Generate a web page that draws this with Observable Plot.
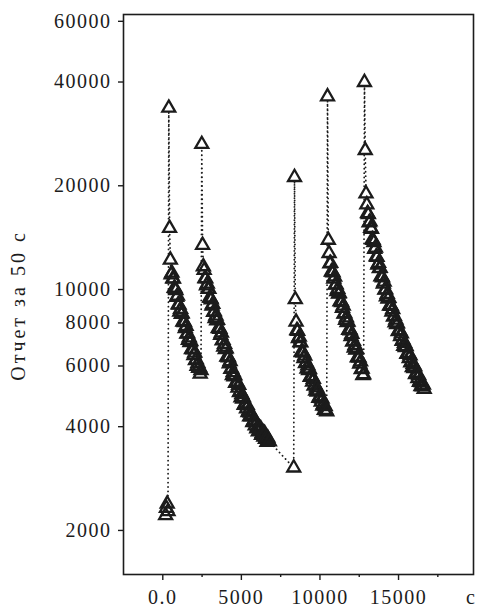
<!DOCTYPE html>
<html><head><meta charset="utf-8">
<script src="https://cdn.jsdelivr.net/npm/d3@7"></script>
<script src="https://cdn.jsdelivr.net/npm/@observablehq/plot@0.6"></script>
<style>
html,body{margin:0;padding:0;background:#fff;}
#chart svg{display:block;}
</style></head><body><div id="chart"></div>
<script>
// Counts per 50 s, sampled every 50 s. Two continuous runs separated by a gap.
const step = 50;
const runAStart = 181;   // s
const runBStart = 8331;  // s

// Run A
const bg     = [2210, 2320, 2390, 2270];
const peak1  = [33650, 15070, 12190];
const decay1 = [11050, 11170, 10750, 10730, 10100, 10070, 9940, 9500, 9580, 9040,
                9020, 8620, 8770, 8490, 8520, 8060, 8090, 8030, 7720, 7830,
                7430, 7450, 7130, 7250, 7030, 7070, 6700, 6730, 6690, 6440,
                6550, 6230, 6260, 5990, 6110, 5920, 5950, 5690, 5830];
const peak2  = [26400, 13460, 11660];
const decay2 = [11380, 10770, 10760, 10260, 10390, 10030, 10030, 9460, 9450, 9350,
                8960, 9070, 8600, 8630, 8250, 8390, 8120, 8150, 7710, 7740,
                7680, 7380, 7490, 7110, 7130, 6820, 6940, 6710, 6740, 6380,
                6390, 6350, 6100, 6190, 5880, 5890, 5640, 5750, 5590, 5630,
                5350, 5390, 5370, 5180, 5280, 5030, 5060, 4860, 4960, 4820,
                4860, 4620, 4660, 4660, 4510, 4610, 4400, 4450, 4280, 4390,
                4280, 4320, 4120, 4160, 4160, 4030, 4120, 3950, 4000, 3870,
                3980, 3900, 3950, 3780, 3830, 3850, 3740, 3830, 3680, 3730,
                3610, 3710, 3630, 3620];

// Run B
const pre3   = [3040];
const peak3  = [21170, 9360];
const decay3 = [8060, 7610, 7580, 7210, 7290, 7020, 7010, 6600, 6580, 6550,
                6310, 6420, 6110, 6140, 5890, 6010, 5830, 5870, 5570, 5600,
                5590, 5400, 5500, 5250, 5290, 5080, 5190, 5050, 5090, 4840,
                4890, 4880, 4720, 4820, 4600, 4650, 4470, 4580, 4460, 4424];
const peak4  = [36300, 13920, 12740];
const decay4 = [11890, 11920, 11260, 11280, 11190, 10740, 10890, 10320, 10330, 9870,
                10030, 9710, 9750, 9220, 9250, 9180, 8830, 8960, 8500, 8520,
                8150, 8290, 8030, 8060, 7630, 7660, 7600, 7310, 7420, 7050,
                7080, 6770, 6890, 6680, 6700, 6350, 6370, 6330, 6090, 6180,
                5870, 5890, 5640, 5667];
const peak5  = [39940, 25350, 18970];
const decay5 = [17640, 16640, 16510, 15630, 15730, 15070, 14970, 13970,
                13900, 13710, 13100, 13210, 12460, 12410, 11800, 11920,
                11510, 11530, 10900, 10910, 10820, 10390, 10530, 9980, 9990, 9540, 9690,
                9400, 9450, 8960, 9000, 8950, 8620, 8760, 8330, 8370, 8010, 8160, 7920,
                7960, 7560, 7610, 7580, 7310, 7450, 7090, 7140, 6850, 6990, 6790, 6840, 6490,
                6540, 6530, 6310, 6430, 6140, 6180, 5950, 6080, 5910, 5970, 5670, 5720, 5710,
                5520, 5640, 5390, 5440, 5240, 5370, 5230, 5290, 5140];

const yTicks = [2000, 4000, 6000, 8000, 10000, 20000, 40000, 60000];
const xTicks = [0, 5000, 10000, 15000];
const xTickLabels = ["0.0", "5000", "10000", "15000"];
const xMinorTicks = [2500, 7500, 12500, 17500];
const yLabel = "Отчет за 50 с";
const xUnit = "c";

const runA = [...bg, ...peak1, ...decay1, ...peak2, ...decay2];
const runB = [...pre3, ...peak3, ...decay3, ...peak4, ...decay4, ...peak5, ...decay5];
const data = [];
runA.forEach((v, i) => data.push({t: runAStart + i * step, v}));
runB.forEach((v, i) => data.push({t: runBStart + i * step, v}));
const xLabelData = xTicks.map((t, i) => ({t, label: xTickLabels[i]}));

const ink = "#1c1c1c";
const serif = "'Liberation Serif','DejaVu Serif',serif";
const chart = Plot.plot({
  width: 478, height: 609,
  marginLeft: 123, marginRight: 5, marginTop: 14, marginBottom: 35,
  style: {fontFamily: serif, fontSize: "20px", color: ink, background: "#fff"},
  x: {domain: [-2500, 19770]},
  y: {type: "log", domain: [1490, 62800]},
  marks: [
    Plot.line(data, {x: "t", y: "v", stroke: ink, strokeWidth: 1.8, strokeDasharray: "0.1,4.3", strokeLinecap: "round"}),
    Plot.dot(data, {x: "t", y: "v", symbol: "triangle", r: 4.8, fill: "white", stroke: "none"}),
    Plot.dot(data, {x: "t", y: "v", symbol: "triangle", r: 4.8, fill: "none", stroke: ink, strokeWidth: 2.3}),
    Plot.frame({stroke: ink, strokeWidth: 1.6}),
    Plot.axisY({ticks: yTicks, tickFormat: () => "", tickSize: 5, label: null, strokeWidth: 1.4, stroke: ink}),
    Plot.text(yTicks, {y: d => d, text: d => String(d), frameAnchor: "left", dx: -12, textAnchor: "end", fontFamily: serif, fontSize: 20, fill: ink}),
    Plot.axisX({ticks: xTicks, tickFormat: () => "", tickSize: 6, label: null, strokeWidth: 1.4, stroke: ink}),
    Plot.axisX({ticks: xMinorTicks, tickFormat: () => "", tickSize: 3, label: null, strokeWidth: 1.4, stroke: ink}),
    Plot.text(xLabelData, {x: "t", text: "label", frameAnchor: "bottom", lineAnchor: "top", dy: 15, textAnchor: "middle", fontFamily: serif, fontSize: 20, fill: ink}),
    Plot.text([xUnit], {frameAnchor: "bottom-right", lineAnchor: "top", dy: 15, dx: -3, textAnchor: "middle", fontFamily: serif, fontSize: 20, fill: ink}),
    Plot.text([yLabel], {frameAnchor: "left", dx: -105, dy: 11, rotate: -90, textAnchor: "middle", fontFamily: serif, fontSize: 20, fill: ink})
  ]
});
d3.select(chart).selectAll("text").each(function() {
  const s = this.textContent;
  if (s === yLabel) this.style.letterSpacing = "3px";
  else if (/^[0-9.]+$/.test(s)) this.style.letterSpacing = "1.5px";
});
document.getElementById("chart").appendChild(chart);
</script>
</body></html>
